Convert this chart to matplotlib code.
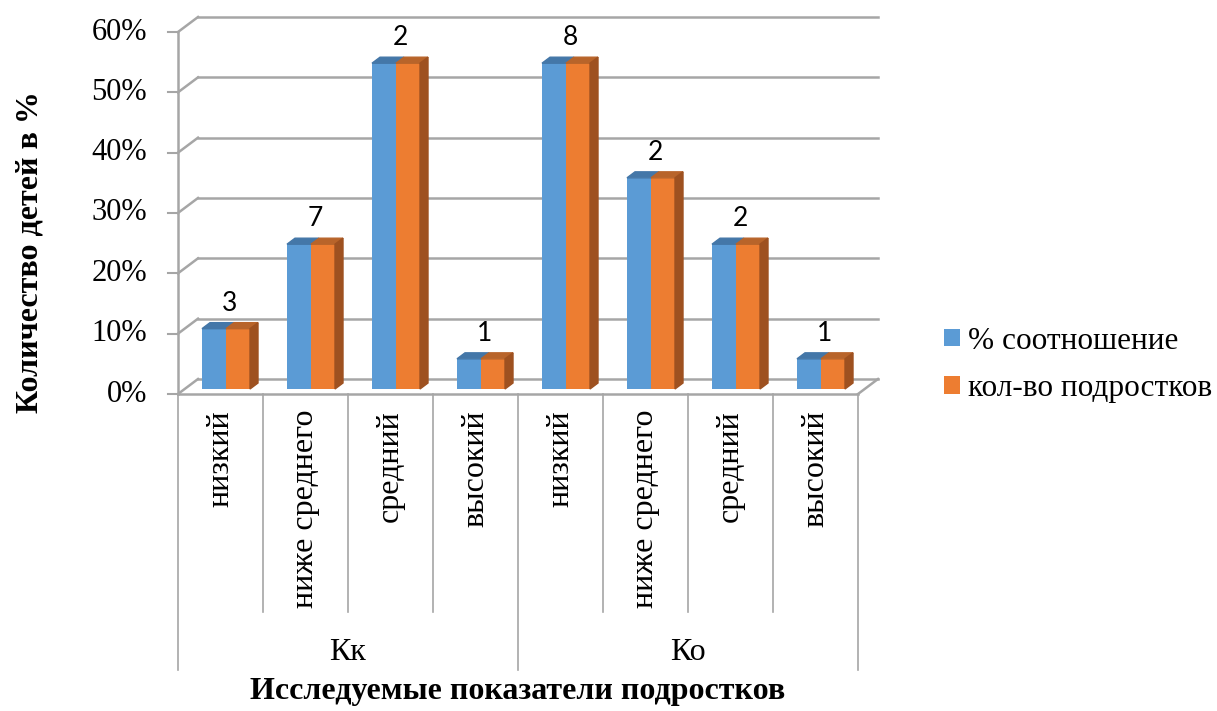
import matplotlib.pyplot as plt
from matplotlib.patches import Polygon
import numpy as np

# data
groups = ['Кк', 'Ко']
levels = ['низкий', 'ниже среднего', 'средний', 'высокий']
pct = [0.10, 0.24, 0.54, 0.05, 0.54, 0.35, 0.24, 0.05]
cnt = [0.10, 0.24, 0.54, 0.05, 0.54, 0.35, 0.24, 0.05]
bar_labels = ['3', '7', '2', '1', '8', '2', '2', '1']
series = ['% соотношение', 'кол-во подростков']
yticks = [0, 0.1, 0.2, 0.3, 0.4, 0.5, 0.6]

blue, orange = '#5B9BD5', '#ED7D31'
blue_top, orange_top, orange_side = '#4477A8', '#B8642A', '#9E5120'
grid = '#A6A6A6'
serif = 'Liberation Serif'

# pixel helpers (front plane: x 178..858 for 8 categories, y 394 -> 0 %, 32 -> 60 %)
PX_CAT = 85.0
PX_UNIT = 362 / 0.6


def py(p):
    return (394 - p) / PX_UNIT


fig = plt.figure(figsize=(12.17, 7.11), dpi=100)
ax = fig.add_axes([178 / 1217, (711 - 394) / 711, 700 / 1217, 378 / 711])
ax.set_xlim(0, 700 / PX_CAT)
ax.set_ylim(0, 378 / PX_UNIT)
ax.axis('off')

n = len(pct)
wall_dx, wall_dy = 20 / PX_CAT, 15 / PX_UNIT

# back wall gridlines + left wall diagonals
for t in yticks:
    ax.plot([wall_dx, n + wall_dx], [t + wall_dy, t + wall_dy], color=grid, lw=1.8, clip_on=False, zorder=1)
    ax.plot([0, wall_dx], [t, t + wall_dy], color=grid, lw=1.8, clip_on=False, zorder=1)
    ax.plot([-10 / PX_CAT, 0], [t, t], color=grid, lw=1.5, clip_on=False, zorder=1)
    ax.text(-31 / PX_CAT, t, f'{int(round(t * 100))}%', ha='right', va='center',
            fontsize=22, family=serif)
# floor right edge
ax.plot([n, n + wall_dx], [0, wall_dy], color=grid, lw=1.8, clip_on=False, zorder=1)
# front vertical axis
ax.plot([0, 0], [0, 0.6], color=grid, lw=1.8, clip_on=False, zorder=1)

# bars
x = np.arange(n)
w = 24 / PX_CAT
x_blue = x + 24 / PX_CAT
x_orange = x_blue + w
base = 5 / PX_UNIT
ddx, ddy = 8 / PX_CAT, 6 / PX_UNIT

b1 = ax.bar(x_blue, pct, width=w, bottom=base, align='edge', color=blue, zorder=3, label=series[0])
b2 = ax.bar(x_orange, cnt, width=w, bottom=base, align='edge', color=orange, zorder=3, label=series[1])

for xs, vals, ctop in [(x_blue, pct, blue_top), (x_orange, cnt, orange_top)]:
    for xi, v in zip(xs, vals):
        top = base + v
        ax.add_patch(Polygon([(xi, top), (xi + w, top), (xi + w + ddx, top + ddy), (xi + ddx, top + ddy)],
                             closed=True, color=ctop, zorder=3, clip_on=False))
for xi, v in zip(x_orange, cnt):
    top = base + v
    ax.add_patch(Polygon([(xi + w, base), (xi + w + ddx, base + ddy), (xi + w + ddx, top + ddy), (xi + w, top)],
                         closed=True, color=orange_side, zorder=3, clip_on=False))

# data labels
for xi, v, lab in zip(x_orange, cnt, bar_labels):
    ax.annotate(lab, (xi + ddx / 2, base + v + ddy), xytext=(0, 14), textcoords='offset points',
                ha='center', va='center', fontsize=19, family='Lato', zorder=4)

# front horizontal axis and category dividers
ax.plot([0, n], [0, 0], color=grid, lw=1.8, clip_on=False, zorder=5)
for k in range(n + 1):
    low = py(670) if k % 4 == 0 else py(612)
    ax.plot([k, k], [0, low], color=grid, lw=1.2, clip_on=False, zorder=1)

for i in range(n):
    ax.text(i + 0.5, py(410), levels[i % 4], rotation=90, ha='center', va='top',
            fontsize=23, family=serif)
for g, name in enumerate(groups):
    ax.text(g * 4 + 2, py(652), name, ha='center', va='center', fontsize=23, family=serif)

fig.text(518 / 1217, 1 - 692 / 711, 'Исследуемые показатели подростков', ha='center', va='center',
         fontsize=23, fontweight='bold', family=serif)
fig.text(30 / 1217, 1 - 252 / 711, 'Количество детей в %', rotation=90, ha='center', va='center',
         fontsize=23, fontweight='bold', family=serif)

fig.legend(handles=[b1, b2], labels=series, loc='center left', bbox_to_anchor=(916 / 1217, 1 - 365 / 711),
           frameon=False, handlelength=0.5, handleheight=0.5, handletextpad=0.25, labelspacing=0.6,
           prop={'family': serif, 'size': 22.5})

fig.savefig('out.png', dpi=100)
